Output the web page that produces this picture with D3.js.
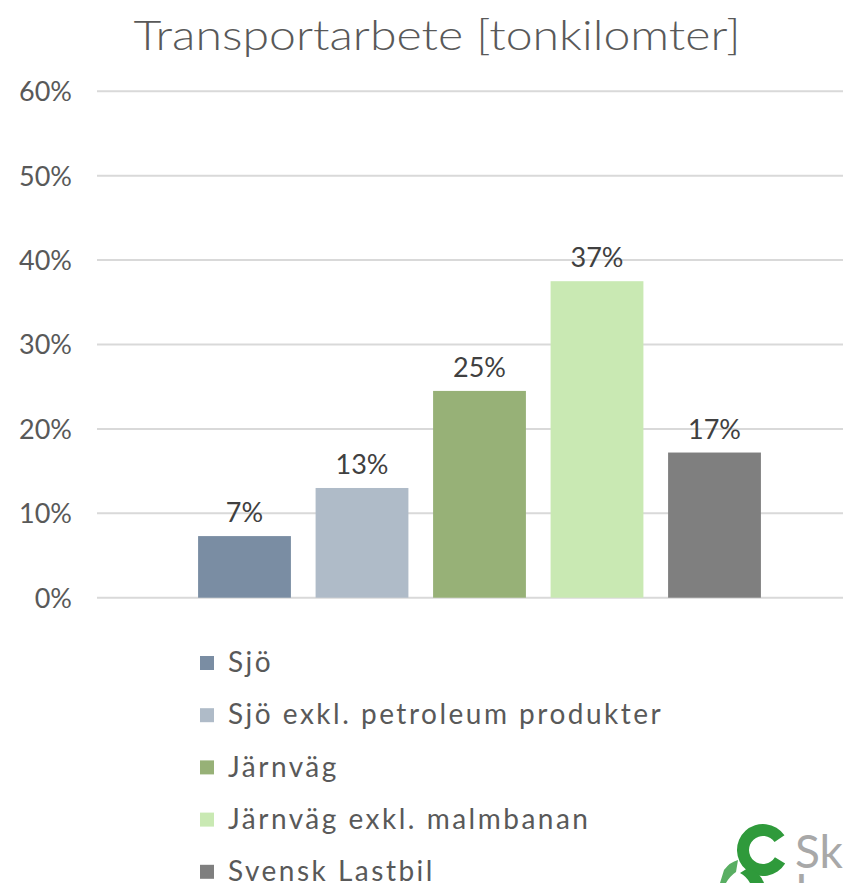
<!DOCTYPE html>
<html>
<head>
<meta charset="utf-8">
<script src="https://cdn.jsdelivr.net/npm/d3@7"></script>
<style>
html,body{margin:0;padding:0;background:#fff;}
svg{display:block;}
text{font-family:"Lato","Open Sans",sans-serif;}
</style>
</head>
<body>
<script>
const title = "Transportarbete [tonkilomter]";
const series = ["Sjö", "Sjö exkl. petroleum produkter", "Järnväg", "Järnväg exkl. malmbanan", "Svensk Lastbil"];
const values = [0.073, 0.130, 0.245, 0.375, 0.172];
const labels = ["7%", "13%", "25%", "37%", "17%"];
const colors = ["#7a8da3", "#afbbc8", "#97b177", "#c9e9b3", "#7f7f7f"];
const yTicks = [0, 0.1, 0.2, 0.3, 0.4, 0.5, 0.6];

const W = 843, H = 883;
const svg = d3.select("body").append("svg").attr("width", W).attr("height", H);

const y = d3.scaleLinear().domain([0, 0.6]).range([597.7, 91.3]);
const x = d3.scaleBand().domain(series).range([185.75, 773.25]).paddingInner(0.21).paddingOuter(0.105);

// title
svg.append("text").attr("x", 437).attr("y", 50).attr("text-anchor", "middle")
  .attr("font-size", 41).attr("font-weight", 300).attr("fill", "#595959")
  .attr("textLength", 607).attr("lengthAdjust", "spacingAndGlyphs")
  .text(title);

// gridlines
svg.append("g").selectAll("line").data(yTicks).join("line")
  .attr("x1", 97).attr("x2", W).attr("y1", d => y(d)).attr("y2", d => y(d))
  .attr("stroke", "#d9d9d9").attr("stroke-width", 2);

// y axis
const yAxis = d3.axisLeft(y).tickValues(yTicks).tickFormat(d3.format(".0%")).tickSize(0).tickPadding(0);
const ga = svg.append("g").attr("transform", "translate(72,0)").call(yAxis);
ga.select(".domain").remove();
ga.selectAll("text").attr("font-size", 27).attr("fill", "#595959")
  .attr("font-family", "Lato, 'Open Sans', sans-serif").attr("dy", "0.35em");

// bars
svg.append("g").selectAll("rect").data(series).join("rect")
  .attr("x", d => x(d)).attr("width", x.bandwidth())
  .attr("y", (d, i) => y(values[i])).attr("height", (d, i) => y(0) - y(values[i]))
  .attr("fill", (d, i) => colors[i]);

// data labels
svg.append("g").selectAll("text").data(series).join("text")
  .attr("x", d => x(d) + x.bandwidth() / 2)
  .attr("y", (d, i) => y(values[i]) - 14)
  .attr("text-anchor", "middle").attr("font-size", 27).attr("fill", "#404040")
  .text((d, i) => labels[i]);

// legend
const lg = svg.append("g").selectAll("g").data(series).join("g")
  .attr("transform", (d, i) => `translate(200,${663 + i * 52.2})`);
lg.append("rect").attr("x", 0).attr("y", -7).attr("width", 14).attr("height", 14)
  .attr("fill", (d, i) => colors[i]);
lg.append("text").attr("x", 28).attr("y", 0).attr("dy", "0.33em")
  .attr("font-size", 28).attr("fill", "#595959").attr("letter-spacing", 2.5)
  .text(d => d);

// logo (partial, cropped at right edge)
const logo = svg.append("g");
const arc = d3.arc().innerRadius(14).outerRadius(26).startAngle(0.5 * Math.PI * 0.35).endAngle(2 * Math.PI - 0.6);
logo.append("path").attr("transform", "translate(763,850) rotate(90)").attr("d", arc()).attr("fill", "#2f9a3b");
logo.append("path").attr("d", "M748,868 Q760,872 764,883 L750,883 Q746,876 740,873 Z").attr("fill", "#2f9a3b");
logo.append("path").attr("d", "M724,870 Q730,862 738,860 L736,872 Q730,876 726,883 L720,883 Z").attr("fill", "#2f9a3b").attr("opacity", 0.8);
logo.append("text").attr("x", 795).attr("y", 868).attr("font-size", 46).attr("fill", "#a8a8a8").text("Sk");
logo.append("text").attr("x", 795).attr("y", 907).attr("font-size", 46).attr("fill", "#a8a8a8").text("Ind");
</script>
</body>
</html>
